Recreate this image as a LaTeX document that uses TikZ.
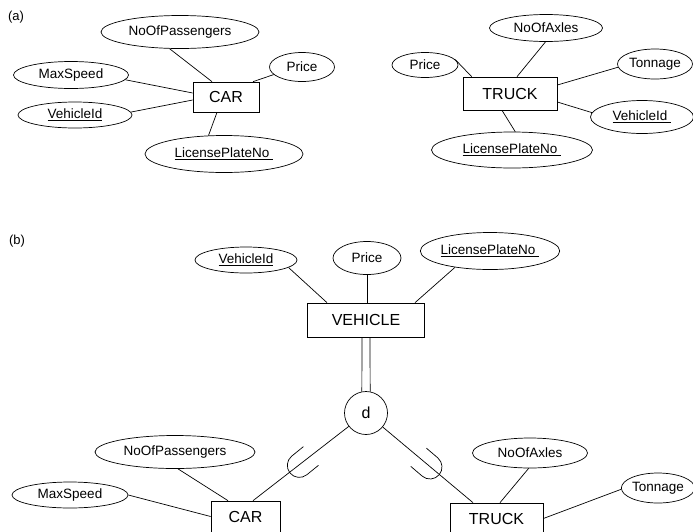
\documentclass[tikz,border=0pt]{standalone}
\usepackage{fontspec}
\setmainfont{Liberation Sans}
\usetikzlibrary{shapes.geometric}
\begin{document}
\begin{tikzpicture}[x=1pt,y=-1pt,
  attr/.style={draw, ellipse, inner sep=0pt, font=\fontsize{13.5}{15}\selectfont, line width=0.7pt},
  ent/.style={draw, rectangle, inner sep=0pt, font=\fontsize{16}{18}\selectfont, line width=0.7pt},
  conn/.style={line width=0.7pt},
  lbl/.style={font=\fontsize{13}{15}\selectfont, inner sep=0pt}]
\clip (0,0) rectangle (693,531);
% ---------------- (a)
\node[lbl] (la) at (16,17) {(a)};
\node[ent, minimum width=66pt, minimum height=30pt] (carA) at (226,97) {CAR};
\node[attr, minimum width=158pt, minimum height=33pt] (nopA) at (180,32) {NoOfPassengers};
\node[attr, minimum width=65pt, minimum height=29pt] (priceA) at (302,67) {Price};
\node[attr, minimum width=115pt, minimum height=27pt] (msA) at (71,75) {MaxSpeed};
\node[attr, minimum width=114pt, minimum height=26pt] (vidA) at (75,115) {\underline{VehicleId}};
\node[attr, minimum width=158pt, minimum height=37pt] (lpnA) at (224,154) {\underline{LicensePlateNo\hspace{4pt}}};
\draw[conn] (nopA.238) -- ([xshift=-14pt]carA.north);
\draw[conn] (priceA.195) -- ([xshift=27pt]carA.north);
\draw[conn] (msA.355) -- ([yshift=4pt]carA.west);
\draw[conn] (vidA.3) -- ([yshift=-3pt]carA.west);
\draw[conn] (lpnA.130) -- ([xshift=-9pt]carA.south);

\node[ent, minimum width=94pt, minimum height=33pt] (truckA) at (510,93.5) {TRUCK};
\node[attr, minimum width=113pt, minimum height=27pt] (noaA) at (546,28) {NoOfAxles};
\node[attr, minimum width=66pt, minimum height=25pt] (priceT) at (425,65) {Price};
\node[attr, minimum width=75pt, minimum height=30pt] (tonA) at (655,64) {Tonnage};
\node[attr, minimum width=103pt, minimum height=33pt] (vidT) at (642,117) {\underline{VehicleId\hspace{4pt}}};
\node[attr, minimum width=161pt, minimum height=36pt] (lpnT) at (512,150) {\underline{LicensePlateNo\hspace{4pt}}};
\draw[conn] (noaA.268) -- ([xshift=7pt]truckA.north);
\draw[conn] (priceT.10) -- ([xshift=9pt]truckA.north west);
\draw[conn] (tonA.185) -- ([yshift=8.5pt]truckA.east);
\draw[conn] (vidT.175) -- ([yshift=-8.5pt]truckA.east);
\draw[conn] (lpnT.80) -- ([xshift=-8pt]truckA.south);

% ---------------- (b)
\node[lbl] (lb) at (17,241) {(b)};
\node[ent, minimum width=117pt, minimum height=34pt] (veh) at (366,320) {VEHICLE};
\node[attr, minimum width=102pt, minimum height=26pt] (vidB) at (246,260) {\underline{VehicleId}};
\node[attr, minimum width=68pt, minimum height=33pt] (priceB) at (367,258) {Price};
\node[attr, minimum width=135pt, minimum height=37pt] (lpnB) at (490,251) {\underline{LicensePlateNo\hspace{4pt}}};
\draw[conn] (vidB.350) -- ([xshift=-39pt]veh.north);
\draw[conn] (priceB.south) -- (priceB.south |- veh.north);
\draw[conn] (lpnB.205) -- ([xshift=49pt]veh.north);

\node[draw, circle, minimum size=43pt, inner sep=0pt, font=\fontsize{16}{18}\selectfont, line width=0.7pt] (dd) at (366,413) {d};
\draw[conn] ([xshift=-4pt]veh.south) -- (dd.101);
\draw[conn] ([xshift=4pt]veh.south) -- (dd.79);

\node[ent, minimum width=69pt, minimum height=31pt] (carB) at (245.5,516.5) {CAR};
\node[ent, minimum width=93pt, minimum height=31pt] (truckB) at (496.5,518.5) {TRUCK};
\node[attr, minimum width=160pt, minimum height=33pt] (nopB) at (175,452) {NoOfPassengers};
\node[attr, minimum width=116pt, minimum height=26pt] (msB) at (70,495) {MaxSpeed};
\node[attr, minimum width=115pt, minimum height=30pt] (noaB) at (530,453) {NoOfAxles};
\node[attr, minimum width=72pt, minimum height=30pt] (tonB) at (658,488) {Tonnage};

\draw[conn] (nopB.280) -- ([xshift=-17.5pt]carB.north);
\draw[conn] (msB.0) -- (carB.west);
\draw[conn] (dd) -- ([xshift=7.5pt]carB.north);
\draw[conn] (dd) -- ([xshift=-23.5pt]truckB.north);
\draw[conn] (noaB.265) -- ([xshift=3.5pt]truckB.north);
\draw[conn] (tonB.182) -- (truckB.east);

% subset symbols
\begin{scope}[shift={(299.3,465.4)}, rotate=39]
\draw[conn] (15pt,12pt) -- (0pt,12pt) arc[start angle=90, end angle=270, radius=12pt] -- (15pt,-12pt);
\end{scope}
\begin{scope}[shift={(430,467)}, rotate=139.5]
\draw[conn] (15pt,12pt) -- (0pt,12pt) arc[start angle=90, end angle=270, radius=12pt] -- (15pt,-12pt);
\end{scope}
\end{tikzpicture}
\end{document}
